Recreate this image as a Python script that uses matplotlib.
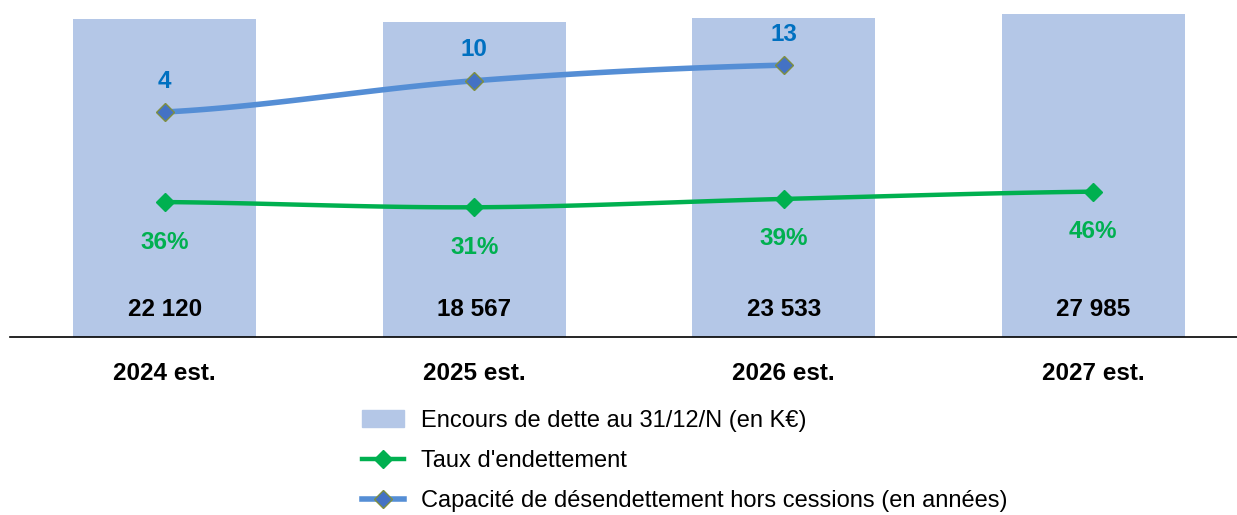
import numpy as np
import matplotlib.pyplot as plt
from matplotlib.transforms import blended_transform_factory
from matplotlib.lines import Line2D
from matplotlib.patches import Patch

plt.rcParams['font.family'] = ['Liberation Sans', 'DejaVu Sans']

years = ["2024 est.", "2025 est.", "2026 est.", "2027 est."]
encours = [22120, 18567, 23533, 27985]
taux = [36, 31, 39, 46]
capacite = [4, 10, 13]

bar_color = "#B4C7E7"
green = "#00B050"
blue_line = "#558ED5"
blue_marker = "#4472C4"
blue_text = "#0070C0"


def smooth(xs, ys, n=40):
    # Catmull-Rom style curve, close to Excel's smoothed lines
    xs = np.asarray(xs, float)
    ys = np.asarray(ys, float)
    px = np.concatenate([[2 * xs[0] - xs[1]], xs, [2 * xs[-1] - xs[-2]]])
    py = np.concatenate([[ys[0]], ys, [ys[-1]]])
    outx, outy = [], []
    for i in range(1, len(px) - 2):
        t = np.linspace(0, 1, n)
        for arr, out in ((px, outx), (py, outy)):
            p0, p1, p2, p3 = arr[i - 1], arr[i], arr[i + 1], arr[i + 2]
            out.extend(0.5 * ((2 * p1) + (-p0 + p2) * t
                              + (2 * p0 - 5 * p1 + 4 * p2 - p3) * t ** 2
                              + (-p0 + 3 * p1 - 3 * p2 + p3) * t ** 3))
    return outx, outy


fig = plt.figure(figsize=(12.37, 5.15), dpi=100)
ax = fig.add_axes([10 / 1237, 1 - 337 / 515, 1238 / 1237, 325 / 515])
x = np.arange(len(years))

ax.bar(x, encours, width=0.59, color=bar_color, zorder=1)
ax.set_yscale('log')
ax.set_ylim(10 ** -2.939, 10 ** 4.503)
ax.set_xlim(-0.5, len(years) - 0.5)
ax.set_yticks([])
ax.minorticks_off()
for s in ['top', 'right', 'left']:
    ax.spines[s].set_visible(False)
ax.spines['bottom'].set_color('black')
ax.spines['bottom'].set_linewidth(1.2)
ax.set_xticks(x)
ax.set_xticklabels(years, fontsize=17.5, fontweight='bold')
ax.tick_params(axis='x', length=0, pad=18)

tr = blended_transform_factory(ax.transData, ax.transAxes)
for xi, v in zip(x, encours):
    ax.text(xi, 0.085, f"{v:,}".replace(",", " "), transform=tr, ha='center',
            va='center', fontsize=17.5, fontweight='bold', color='black')

# taux d'endettement
ax2 = ax.twinx()
ax2.set_ylim(-93.5, 218.4)
ax2.axis('off')
sx, sy = smooth(x, taux)
ax2.plot(sx, sy, color=green, lw=3.2, zorder=3)
ax2.plot(x, taux, linestyle='none', marker='D', ms=9, color=green, zorder=4)
for xi, v in zip(x, taux):
    ax2.annotate(f"{v}%", (xi, v), xytext=(0, -40), textcoords='offset pixels',
                 ha='center', va='center', fontsize=17.5, fontweight='bold', color=green)

# capacite de desendettement
ax3 = ax.twinx()
ax3.set_ylim(-39.2, 23.2)
ax3.axis('off')
cx = x[:len(capacite)]
sx, sy = smooth(cx, capacite)
ax3.plot(sx, sy, color=blue_line, lw=4, zorder=3)
ax3.plot(cx, capacite, linestyle='none', marker='D', ms=9, color=blue_marker,
         markeredgecolor='#7F8F3F', markeredgewidth=1, zorder=4)
for xi, v in zip(cx, capacite):
    ax3.annotate(f"{v}", (xi, v), xytext=(0, 31), textcoords='offset pixels',
                 ha='center', va='center', fontsize=17.5, fontweight='bold', color=blue_text)

# legend
handles = [
    Patch(color=bar_color),
    Line2D([], [], color=green, lw=3.2, marker='D', ms=9),
    Line2D([], [], color=blue_line, lw=4, marker='D', ms=9, markerfacecolor=blue_marker,
           markeredgecolor='#7F8F3F'),
]
labels = ["Encours de dette au 31/12/N (en K€)", "Taux d'endettement",
          "Capacité de désendettement hors cessions (en années)"]
fig.legend(handles, labels, loc='upper left', bbox_to_anchor=(350 / 1237, 1 - 398 / 515),
           frameon=False, fontsize=17, handlelength=1.8, handletextpad=0.7,
           labelspacing=0.77, borderpad=0)

fig.savefig("out.png", dpi=100)
